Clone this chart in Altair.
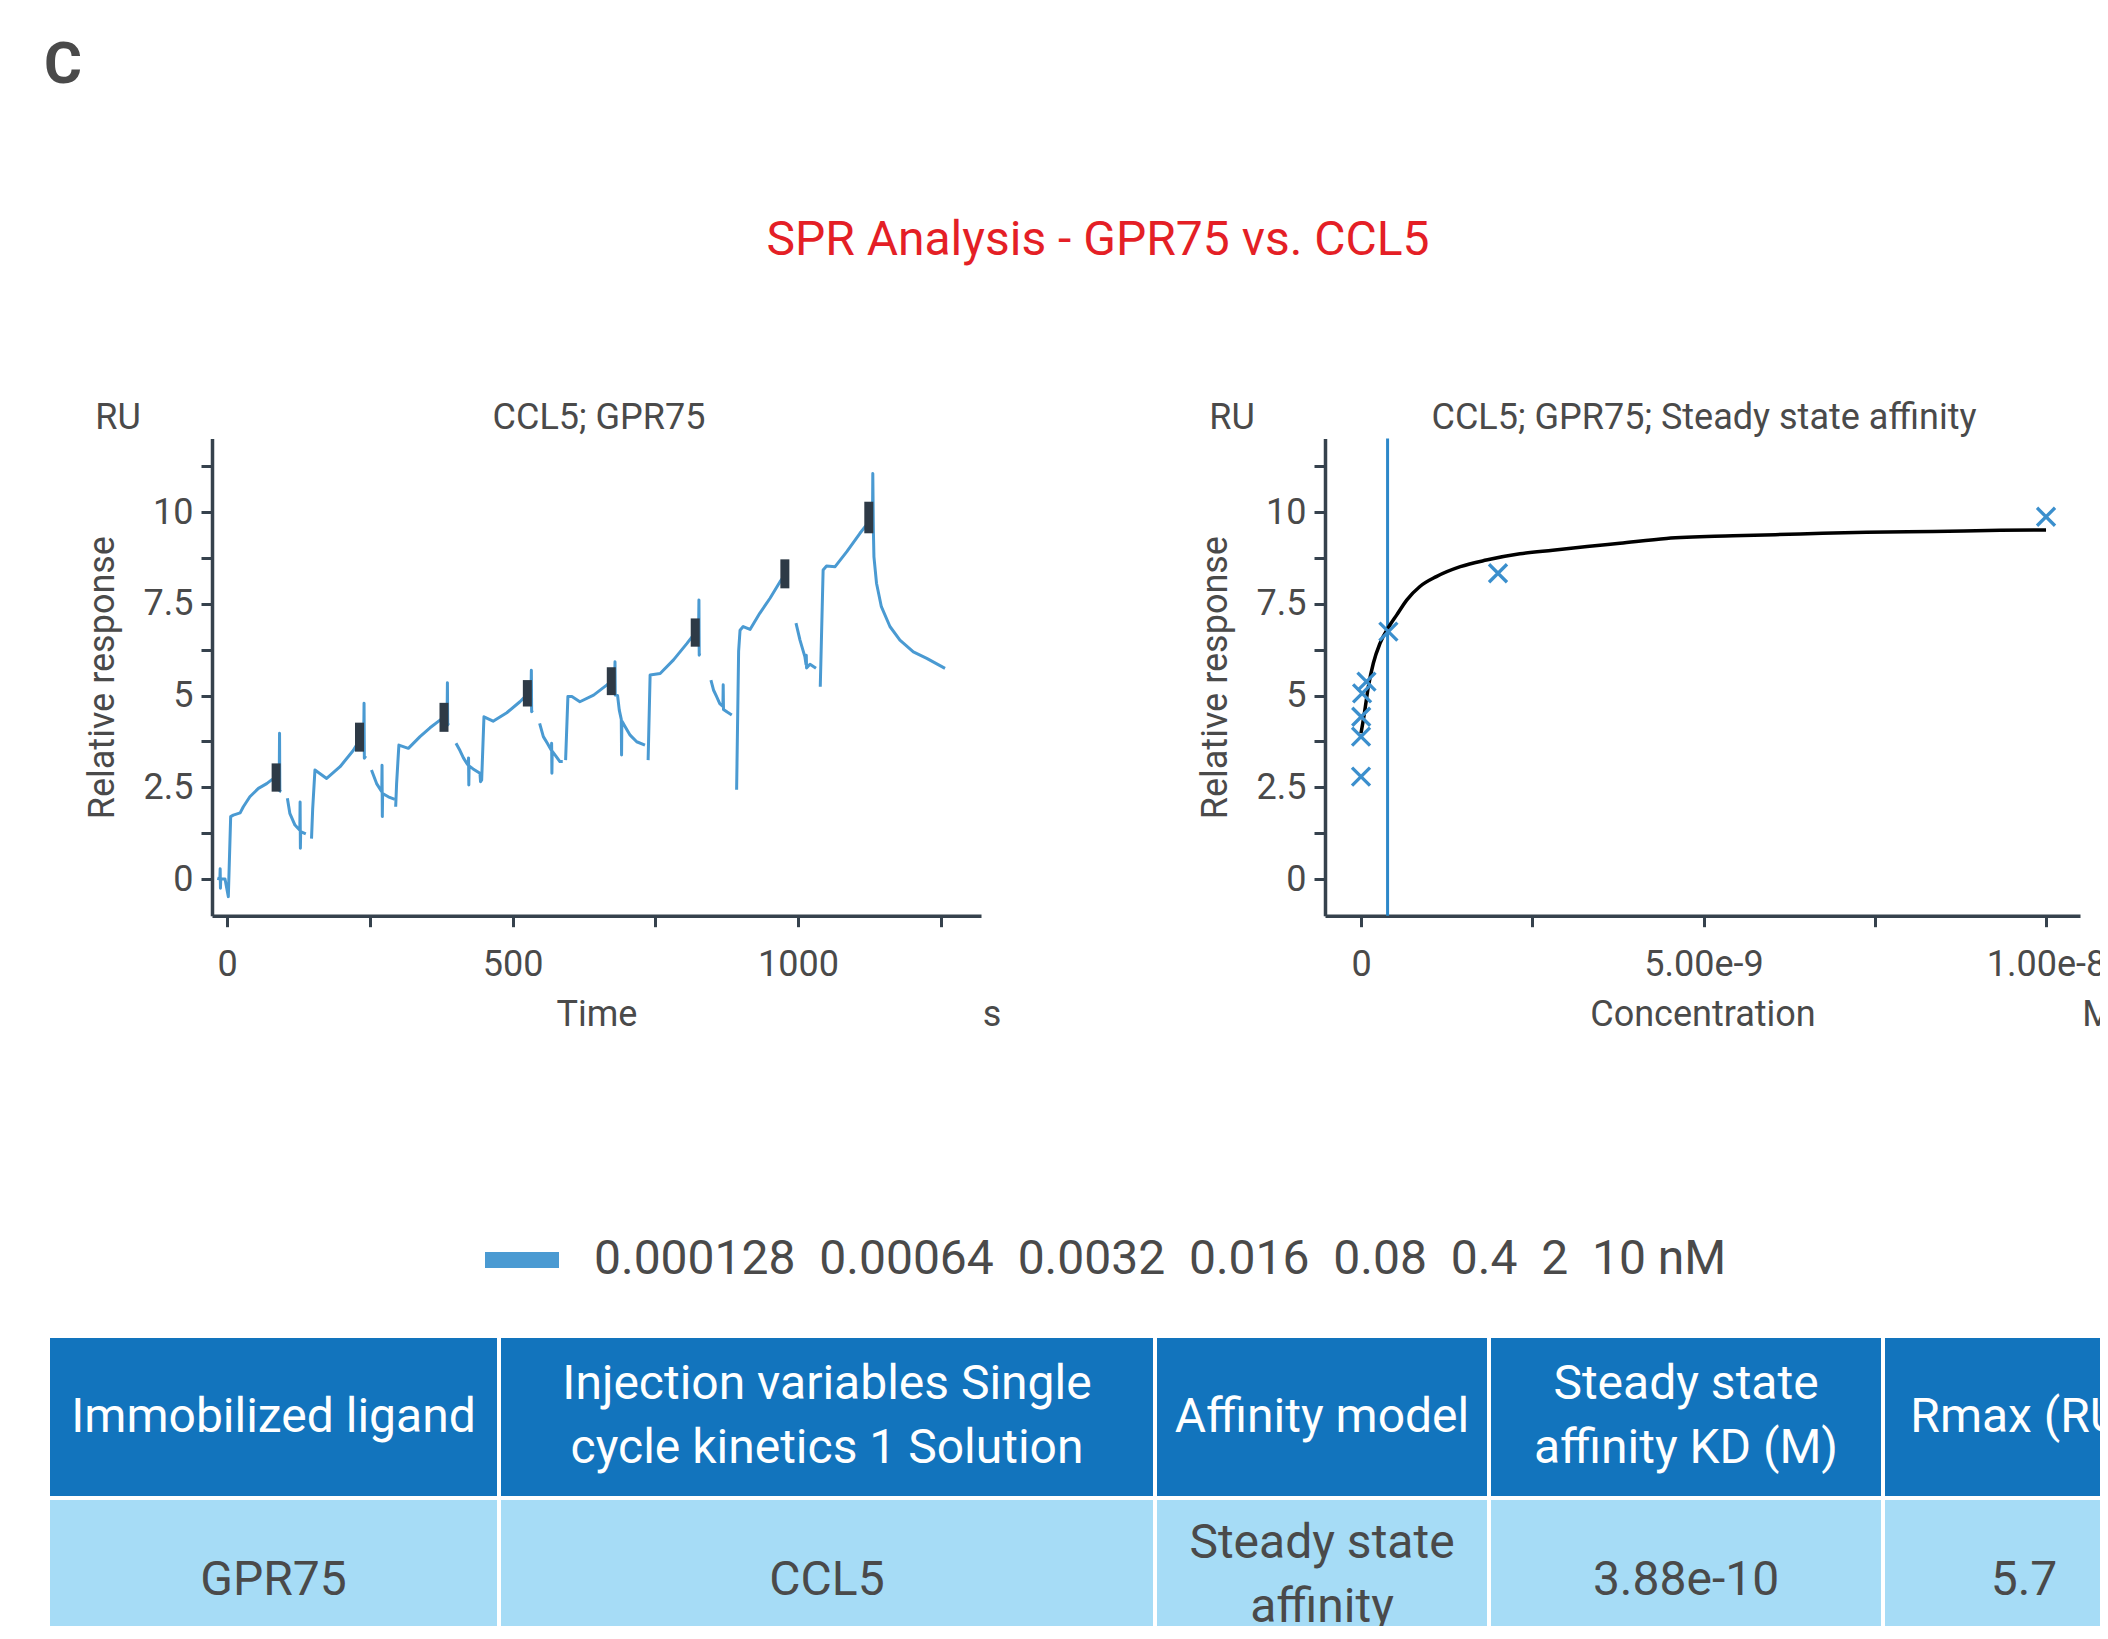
import altair as alt
import pandas as pd

# ---------------------------------------------------------------- data
panel_letter = "C"
main_title = "SPR Analysis - GPR75 vs. CCL5"
left_title = "CCL5; GPR75"
right_title = "CCL5; GPR75; Steady state affinity"
y_unit = "RU"
time_unit = "s"
conc_unit = "M"
time_title = "Time"
conc_title = "Concentration"
response_title = "Relative response"

# Sensorgram (single cycle kinetics), one list per trace segment
sensor_time = [
    [-17, -12.5, -12, -11.5, -11, -3.5, 2.3, 6.4, 11, 23, 28.6, 40, 55, 69.5, 78, 87, 91.5, 92, 92.5, 95],
    [105.7, 110, 119, 127.5, 128, 128.5, 129, 138],
    [148, 150, 154, 174.5, 198, 221, 232, 239.5, 240, 240.5, 243],
    [253, 262, 271, 271.5, 272, 272.5, 282.5, 294],
    [295.4, 297, 301, 317.6, 338, 355.5, 373, 383, 385.5, 386, 386.5, 388],
    [401, 408, 414, 420, 422.5, 423, 423.5, 424, 431, 443, 444, 446, 450, 466, 490, 513, 522, 530, 532.5, 533, 533.5, 535],
    [547.5, 554, 561, 568, 568.5, 569, 569.5, 576, 583, 588],
    [593, 597, 604, 618, 642, 665.5, 676, 679, 679.5, 680, 684, 687, 690.5, 691, 691.5, 694, 706, 717.5, 732],
    [737.5, 741, 758.6, 782, 805.6, 817, 824, 826, 826.5, 827, 828],
    [847.5, 852, 857.5, 863, 868.5, 869, 869.5, 876, 884],
    [892.5, 896, 898.5, 904, 916, 933, 951, 968.5, 980],
    [996.5, 1003.5, 1012, 1014, 1014.5, 1015, 1021, 1031.5],
    [1039, 1044, 1050, 1065, 1085.5, 1108.5, 1120, 1128, 1130.5, 1131, 1132, 1133, 1137.5, 1146, 1161, 1178.5, 1202, 1225.5, 1257.5],
]
sensor_ru = [
    [0.02, 0.0, 0.28, -0.25, 0.0, 0.0, -0.48, 1.7, 1.74, 1.8, 1.97, 2.24, 2.47, 2.6, 2.7, 2.76, 2.8, 3.97, 2.4, 2.38],
    [2.2, 1.79, 1.47, 1.33, 2.1, 0.84, 1.29, 1.23],
    [1.1, 1.9, 2.97, 2.74, 3.06, 3.5, 3.78, 3.95, 4.79, 3.29, 3.35],
    [2.97, 2.6, 2.38, 3.1, 1.7, 2.33, 2.24, 2.17],
    [1.97, 2.6, 3.65, 3.56, 3.88, 4.12, 4.33, 4.42, 4.48, 5.35, 4.2, 4.25],
    [3.7, 3.5, 3.3, 3.15, 3.1, 3.3, 2.56, 3.08, 3.0, 2.88, 2.65, 2.7, 4.42, 4.3, 4.53, 4.83, 4.97, 5.07, 5.15, 5.69, 4.56, 4.6],
    [4.24, 3.88, 3.7, 3.51, 3.7, 2.88, 3.48, 3.35, 3.2, 3.2],
    [3.24, 4.97, 4.97, 4.83, 5.01, 5.29, 5.4, 5.45, 5.92, 5.01, 5.0, 4.6, 4.35, 3.38, 4.3, 4.24, 3.92, 3.74, 3.65],
    [3.24, 5.56, 5.6, 5.97, 6.42, 6.65, 6.78, 6.85, 7.6, 6.1, 6.15],
    [5.42, 5.15, 4.97, 4.78, 4.7, 5.29, 4.62, 4.55, 4.47],
    [2.43, 6.2, 6.78, 6.88, 6.8, 7.24, 7.65, 8.1, 8.35],
    [6.97, 6.51, 6.06, 5.85, 6.1, 5.75, 5.85, 5.74],
    [5.24, 8.42, 8.53, 8.51, 8.92, 9.42, 9.65, 9.8, 9.9, 11.05, 9.5, 8.78, 8.06, 7.42, 6.88, 6.51, 6.19, 6.01, 5.74],
]

# report points at the end of each injection
report_time = [86, 232, 380, 526, 673, 820, 977, 1124]
report_low = [2.38, 3.47, 4.01, 4.70, 5.01, 6.33, 7.92, 9.42]
report_high = [3.15, 4.26, 4.80, 5.42, 5.77, 7.10, 8.71, 10.28]

# concentration series (nM) and steady-state responses (RU)
conc_nM = [0.000128, 0.00064, 0.0032, 0.016, 0.08, 0.4, 2, 10]
conc_labels = ["0.000128", "0.00064", "0.0032", "0.016", "0.08", "0.4", "2", "10"]
steady_ru = [2.79, 3.88, 4.42, 5.06, 5.38, 6.74, 8.33, 9.87]

# fitted steady-state affinity curve
fit_conc_M = [1.28e-13, 4.9e-11, 1.07e-10, 1.8e-10, 2.77e-10, 4.09e-10, 5.2e-10, 6.67e-10, 8.6e-10,
              1.1e-9, 1.45e-9, 1.83e-9, 2.32e-9, 2.8e-9, 3.3e-9, 3.78e-9, 4.46e-9, 5.43e-9,
              6.41e-9, 7.38e-9, 8.35e-9, 9.33e-9, 1.0e-8]
fit_ru = [3.97, 4.51, 5.24, 5.88, 6.42, 6.88, 7.19, 7.6, 7.97, 8.24, 8.51, 8.69, 8.86, 8.96,
          9.06, 9.15, 9.28, 9.35, 9.4, 9.45, 9.47, 9.5, 9.51]

kd_M = 3.88e-10

time_ticks = [0, 250, 500, 750, 1000, 1250]
ru_ticks = [0, 1.25, 2.5, 3.75, 5, 6.25, 7.5, 8.75, 10, 11.25]
conc_ticks = [0, 2.5e-9, 5e-9, 7.5e-9, 1e-8]

table_header = ["Immobilized ligand", "Injection variables Single\ncycle kinetics 1 Solution",
                "Affinity model", "Steady state\naffinity KD (M)", "Rmax (RU)"]
table_row = ["GPR75", "CCL5", "Steady state\naffinity", "3.88e-10", "5.7"]

# ---------------------------------------------------------------- layout / style
W, H = 2092, 1618
FONT = "Roboto"
TEXT = "#4a4a4a"
AXIS = "#36424d"
LINE_BLUE = "#4a9ad2"
MARK_BLUE = "#3b8fcd"
KD_BLUE = "#2d88c9"
MARKER = "#2e3a46"
RED = "#e41f26"
HDR = "#1274bd"
BODY = "#a6dcf6"

Y_BOT, Y_TOP = 907.7, 430.6          # pixel range of the response axis (-1 .. 12)
LX0, LX1 = 204, 973                  # left panel x range
RX0, RX1 = 1317, 2072                # right panel x range
T_DOMAIN = [-26.3, 1320.5]
C_DOMAIN = [-5.255e-10, 1.0496e-8]
RU_DOMAIN = [-1, 12]

COL_EDGES = [40, 491, 1147, 1481, 1875, 2157]
ROW_EDGES = [1328, 1490, 1656]
LINE_H = 64
ROW_TEXT_SHIFT = {("header", 1): 0, ("header", 2): -1, ("body", 1): 0, ("body", 2): -5}

legend_label = "\u00a0\u00a0".join(conc_labels) + " nM"

# ---------------------------------------------------------------- frames
rows = []
for s, (ts, vs) in enumerate(zip(sensor_time, sensor_ru)):
    for i, (t, v) in enumerate(zip(ts, vs)):
        rows.append({"seg": s, "idx": i, "t": t, "ru": v, "series": legend_label})
sensor_df = pd.DataFrame(rows)
report_df = pd.DataFrame({"t": report_time, "lo": report_low, "hi": report_high})
steady_df = pd.DataFrame({"c": [c * 1e-9 for c in conc_nM], "ru": steady_ru})
fit_df = pd.DataFrame({"c": fit_conc_M, "ru": fit_ru})
kd_df = pd.DataFrame({"kd": [kd_M]})

cells = []
for r, (kind, texts) in enumerate([("header", table_header), ("body", table_row)]):
    for c, txt in enumerate(texts):
        nl = txt.count("\n") + 1
        cells.append({"kind": kind, "text": txt,
                      "x0": COL_EDGES[c], "x1": COL_EDGES[c + 1],
                      "y0": ROW_EDGES[r], "y1": ROW_EDGES[r + 1],
                      "xc": (COL_EDGES[c] + COL_EDGES[c + 1]) / 2,
                      "ty": (ROW_EDGES[r] + ROW_EDGES[r + 1]) / 2 - (nl - 1) * LINE_H / 2
                            + ROW_TEXT_SHIFT[(kind, nl)]})
cell_df = pd.DataFrame(cells)

# ---------------------------------------------------------------- axes
style = dict(domainColor=AXIS, domainWidth=3.5, tickColor=AXIS, tickWidth=3, tickSize=11,
             labelFont=FONT, labelFontSize=36, labelColor=TEXT,
             titleFont=FONT, titleFontSize=36, titleColor=TEXT, titleFontWeight="normal",
             grid=False, labelFlush=False, labelOverlap=False)

X_AXIS_Y = Y_BOT


def x_axis(x0, x1, values, label_expr):
    return alt.Axis(orient="bottom", offset=X_AXIS_Y - H, values=values,
                    labelExpr=label_expr, labelPadding=21,
                    titleX=(x0 + x1) / 2, titleY=110,
                    titleBaseline="alphabetic", titleAlign="center", **style)


def y_axis(x0):
    return alt.Axis(orient="left", offset=-x0, values=ru_ticks,
                    labelExpr="datum.value % 2.5 === 0 ? '' + datum.value : ''",
                    labelPadding=8, titleX=-99, titleY=(Y_BOT + Y_TOP) / 2, titleAngle=270,
                    titleBaseline="alphabetic", titleAlign="center", **style)


conc_expr = ("abs(datum.value) < 1e-13 ? '0' : ((abs(datum.value - 5e-9) < 1e-13 || abs(datum.value - 1e-8) < 1e-13)"
             " ? format(datum.value, '.2e') : '')")


def sx_left():
    return alt.Scale(domain=T_DOMAIN, range=[LX0, LX1], nice=False, zero=False)


def sx_right():
    return alt.Scale(domain=C_DOMAIN, range=[RX0, RX1], nice=False, zero=False)


def sy():
    return alt.Scale(domain=RU_DOMAIN, range=[Y_BOT, Y_TOP], nice=False, zero=False)


# ---------------------------------------------------------------- left panel
line = alt.Chart(sensor_df).mark_line(strokeJoin="round").encode(
    x=alt.X("t:Q", scale=sx_left(), title=time_title,
            axis=x_axis(LX0, LX1, time_ticks, "datum.value % 500 === 0 ? '' + datum.value : ''")),
    y=alt.Y("ru:Q", scale=sy(), title=response_title, axis=y_axis(LX0)),
    detail="seg:N",
    order="idx:Q",
    strokeWidth=alt.value(3),
    color=alt.Color("series:N", scale=alt.Scale(domain=[legend_label], range=[LINE_BLUE]),
                    legend=alt.Legend(orient="none", legendX=469, legendY=1207, title=None,
                                      symbolType="stroke", symbolSize=5476, symbolStrokeWidth=16,
                                      labelFont=FONT, labelFontSize=48, labelColor=TEXT,
                                      labelOffset=27, labelLimit=2000, padding=0)),
)
markers = alt.Chart(report_df).mark_rule(strokeWidth=9, color=MARKER).encode(
    x=alt.X("t:Q", scale=sx_left(), axis=None),
    y=alt.Y("lo:Q", scale=sy(), axis=None),
    y2="hi:Q",
)

# ---------------------------------------------------------------- right panel
kd_rule = alt.Chart(kd_df).mark_rule(color=KD_BLUE, strokeWidth=3).encode(
    x=alt.X("kd:Q", scale=sx_right(), axis=None),
    y=alt.YDatum(12, scale=sy(), axis=None),
    y2=alt.Y2Datum(-1),
)
curve = alt.Chart(fit_df).mark_line(color="black", strokeWidth=3.5, interpolate="monotone").encode(
    x=alt.X("c:Q", scale=sx_right(), title=conc_title,
            axis=x_axis(RX0, RX1, conc_ticks, conc_expr)),
    y=alt.Y("ru:Q", scale=sy(), title=response_title, axis=y_axis(RX0)),
)
points = alt.Chart(steady_df).mark_point(shape="M-1,-1L1,1M1,-1L-1,1", size=324, strokeWidth=3.3,
                                         filled=False, color=MARK_BLUE, opacity=1).encode(
    x=alt.X("c:Q", scale=sx_right(), axis=None),
    y=alt.Y("ru:Q", scale=sy(), axis=None),
)

# ---------------------------------------------------------------- table
def tx():
    return alt.Scale(domain=[0, W], range=[0, W], nice=False, zero=False)


def ty():
    return alt.Scale(domain=[0, H], range=[0, H], nice=False, zero=False)


rects = alt.Chart(cell_df).mark_rect(stroke="white", strokeWidth=4).encode(
    x=alt.X("x0:Q", scale=tx(), axis=None), x2="x1:Q",
    y=alt.Y("y0:Q", scale=ty(), axis=None), y2="y1:Q",
    color=alt.Color("kind:N", scale=alt.Scale(domain=["header", "body"], range=[HDR, BODY]), legend=None),
)
head_txt = alt.Chart(cell_df).transform_filter("datum.kind === 'header'").mark_text(
    color="white", font=FONT, fontSize=48, lineBreak="\n", lineHeight=LINE_H, baseline="middle", dy=1).encode(
    x=alt.X("xc:Q", scale=tx(), axis=None), y=alt.Y("ty:Q", scale=ty(), axis=None), text="text:N")
body_txt = alt.Chart(cell_df).transform_filter("datum.kind === 'body'").mark_text(
    color=TEXT, font=FONT, fontSize=48, lineBreak="\n", lineHeight=LINE_H, baseline="middle").encode(
    x=alt.X("xc:Q", scale=tx(), axis=None), y=alt.Y("ty:Q", scale=ty(), axis=None), text="text:N")

# ---------------------------------------------------------------- annotations
dummy = pd.DataFrame({"k": [0]})


def label(text, x, y, size=36, color=TEXT, weight="normal", align="center"):
    return alt.Chart(dummy).mark_text(text=text, x=x, y=y, fontSize=size, color=color,
                                      fontWeight=weight, align=align, baseline="alphabetic", font=FONT)


annots = [
    label(panel_letter, 36, 75, size=58, weight="bold", align="left"),
    label(main_title, 1090, 247, size=48, color=RED),
    label(y_unit, 110, 421),
    label(left_title, 591, 421),
    label(y_unit, 1224, 421),
    label(right_title, 1696, 421),
    label(time_unit, 984, 1018),
    label(conc_unit, 2090, 1018),
]

chart = alt.layer(line, markers, kd_rule, curve, points, rects, head_txt, body_txt, *annots).resolve_scale(
    x="independent", y="independent", color="independent"
).properties(
    width=W, height=H, autosize=alt.AutoSizeParams(type="none"), padding=0, background="white"
).configure(font=FONT, view=alt.ViewConfig(strokeWidth=0))

chart.save("out.html", embed_options={"renderer": "svg", "actions": False})
